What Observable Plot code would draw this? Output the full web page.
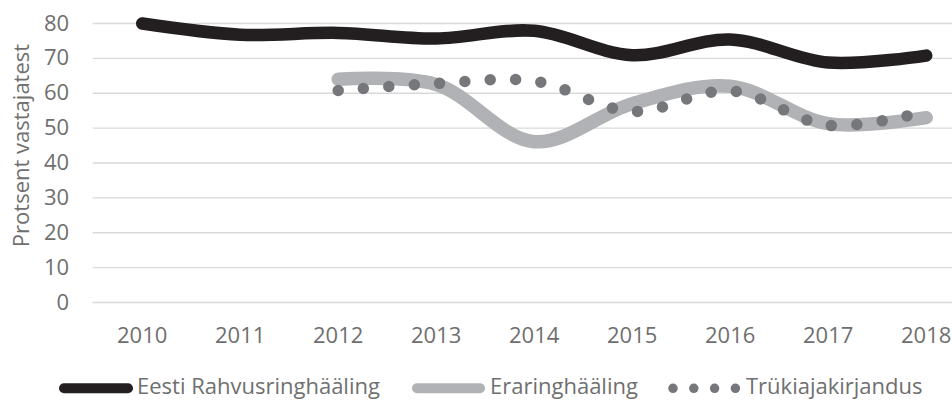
<!DOCTYPE html>
<html>
<head>
<meta charset="utf-8">
<script src="https://cdn.jsdelivr.net/npm/d3@7"></script>
<script src="https://cdn.jsdelivr.net/npm/@observablehq/plot@0.6"></script>
<style>
  html, body { margin: 0; padding: 0; background: #fff; }
  #chart { position: relative; width: 952px; height: 400px; overflow: hidden; font-family: "Open Sans", sans-serif; }
  #legend { display: block; }
</style>
</head>
<body>
<div id="chart"></div>
<script>
// ---- data ----
const years = [2010, 2011, 2012, 2013, 2014, 2015, 2016, 2017, 2018];
const seriesNames = ["Eesti Rahvusringhääling", "Eraringhääling", "Trükiajakirjandus"];
const errValues = [80, 76.8, 77.3, 75.7, 77.9, 70.9, 75.4, 68.8, 70.8];
const laterYears = [2012, 2013, 2014, 2015, 2016, 2017, 2018];
const eraValues = [64, 62.5, 46.1, 57, 62, 51.3, 53];
const trukValues = [60.8, 62.8, 63.5, 54.8, 60.7, 50.8, 54.8];
const yTicks = [0, 10, 20, 30, 40, 50, 60, 70, 80];
const yLabel = "Protsent vastajatest";

// ---- styles ----
const colors = ["#231f20", "#b1b2b5", "#76777b"];
const textColor = "#6f6f6f";

const err = years.map((year, i) => ({year, value: errValues[i]}));
const era = laterYears.map((year, i) => ({year, value: eraValues[i]}));
const truk = laterYears.map((year, i) => ({year, value: trukValues[i]}));

const plot = Plot.plot({
  width: 952,
  height: 362,
  marginLeft: 92.7,
  marginRight: -22.7,
  marginTop: 23,
  marginBottom: 60,
  style: {fontFamily: "'Open Sans', sans-serif", fontSize: "22px", color: textColor, background: "#fff"},
  x: {domain: [2009.5, 2018.5]},
  y: {domain: [0, 80]},
  marks: [
    Plot.ruleY(yTicks, {stroke: "#d9d9d9", strokeWidth: 1.3}),
    Plot.axisY(yTicks, {tickSize: 0, tickPadding: 24, label: null, fill: textColor}),
    Plot.axisX(years, {tickSize: 0, tickPadding: 25, label: null, tickFormat: d => String(d), fill: textColor}),
    Plot.text([yLabel], {frameAnchor: "left", textAnchor: "middle", rotate: -90, dx: -71, dy: -17.5, fill: textColor, fontSize: 22}),
    Plot.line(err, {x: "year", y: "value", stroke: colors[0], strokeWidth: 12.5, curve: "catmull-rom", strokeLinecap: "round", strokeLinejoin: "round"}),
    Plot.line(era, {x: "year", y: "value", stroke: colors[1], strokeWidth: 13.5, curve: "catmull-rom", strokeLinecap: "round", strokeLinejoin: "round"}),
    Plot.line(truk, {x: "year", y: "value", stroke: colors[2], strokeWidth: 11.5, curve: "catmull-rom", strokeLinecap: "round", strokeDasharray: "0 25.4"})
  ]
});

const chart = document.getElementById("chart");
chart.appendChild(plot);

// ---- legend (below the plot) ----
const legend = d3.create("svg")
  .attr("id", "legend")
  .attr("width", 952)
  .attr("height", 38)
  .style("font-family", "'Open Sans', sans-serif")
  .style("font-size", "22px");

const items = [
  {x0: 59, x1: 133, tx: 137, kind: "line", width: 10},
  {x0: 412, x1: 485, tx: 490, kind: "line", width: 10},
  {x0: 673, x1: 736, tx: 746, kind: "dots", width: 9.5}
];
const cy = 26.3;
items.forEach((it, i) => {
  if (it.kind === "line") {
    legend.append("line")
      .attr("x1", it.x0 + it.width / 2).attr("x2", it.x1 - it.width / 2)
      .attr("y1", cy).attr("y2", cy)
      .attr("stroke", colors[i]).attr("stroke-width", it.width)
      .attr("stroke-linecap", "round");
  } else {
    legend.append("line")
      .attr("x1", it.x0).attr("x2", it.x1 + 1)
      .attr("y1", cy).attr("y2", cy)
      .attr("stroke", colors[i]).attr("stroke-width", it.width)
      .attr("stroke-linecap", "round")
      .attr("stroke-dasharray", "0 20.8");
  }
  legend.append("text")
    .attr("x", it.tx).attr("y", 32.3)
    .attr("fill", textColor)
    .text(seriesNames[i]);
});
chart.appendChild(legend.node());
</script>
</body>
</html>
